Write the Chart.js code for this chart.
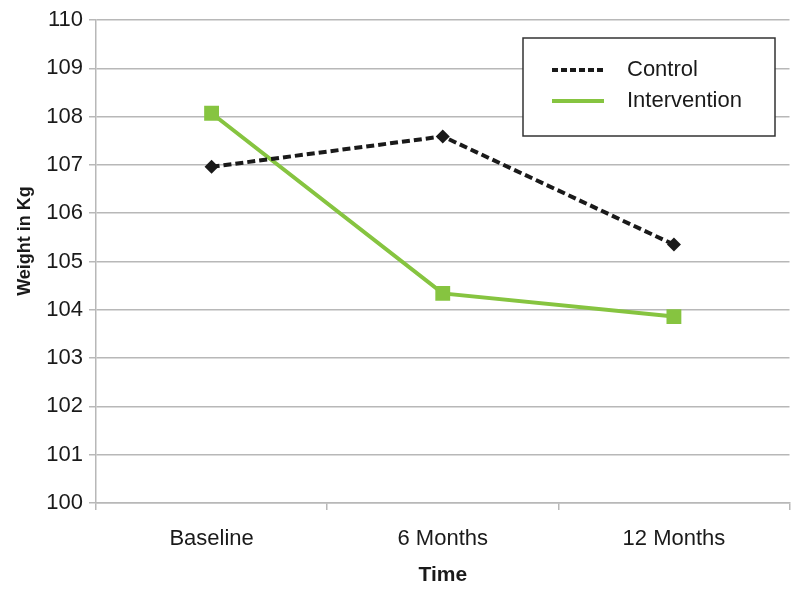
<!DOCTYPE html>
<html>
<head>
<meta charset="utf-8">
<script src="https://cdn.jsdelivr.net/npm/chart.js@4"></script>
<style>
  html, body { margin: 0; padding: 0; background: #fff; }
  #wrap { width: 800px; height: 592px; }
</style>
</head>
<body>
<div id="wrap"><canvas id="chart" width="800" height="592"></canvas></div>
<script>
// Données
const categories = ['Baseline', '6 Months', '12 Months'];
const controlValues = [106.96, 107.59, 105.35];
const interventionValues = [108.07, 104.34, 103.86];
const yTicks = [100, 101, 102, 103, 104, 105, 106, 107, 108, 109, 110];
const yTitle = 'Weight in Kg';
const xTitle = 'Time';

const colors = {
    control: '#1a1a1a',
    intervention: '#86c440',
    grid: '#b8b8b8',
    text: '#1a1a1a'
};

const FONT = "'Liberation Sans', Arial, sans-serif";

// Légende encadrée + titre de l'axe Y (décalé vers le haut comme l'original)
const boxLegend = {
    id: 'boxLegend',
    afterDraw(chart) {
        const ctx = chart.ctx;
        ctx.save();
        ctx.strokeStyle = '#333';
        ctx.lineWidth = 1.5;
        ctx.fillStyle = '#fff';
        ctx.fillRect(523, 38, 252, 98);
        ctx.strokeRect(523, 38, 252, 98);
        const rows = [70, 101];
        chart.data.datasets.forEach((ds, i) => {
            const y = rows[i];
            ctx.beginPath();
            ctx.setLineDash(ds.borderDash ? [6, 3] : []);
            ctx.strokeStyle = ds.borderColor;
            ctx.lineWidth = ds.borderWidth;
            ctx.moveTo(552, y);
            ctx.lineTo(604, y);
            ctx.stroke();
            ctx.setLineDash([]);
            ctx.fillStyle = colors.text;
            ctx.font = '22px ' + FONT;
            ctx.textBaseline = 'middle';
            ctx.fillText(ds.label, 627, y);
        });

        // titre Y
        ctx.translate(25, 241);
        ctx.rotate(-Math.PI / 2);
        ctx.font = 'bold 18px ' + FONT;
        ctx.textAlign = 'center';
        ctx.textBaseline = 'middle';
        ctx.fillStyle = colors.text;
        ctx.fillText(yTitle, 0, 0);
        ctx.restore();
    }
};

new Chart(document.getElementById('chart'), {
    type: 'line',
    data: {
        labels: categories,
        datasets: [{
            label: 'Control',
            data: controlValues,
            borderColor: colors.control,
            backgroundColor: colors.control,
            borderWidth: 4,
            borderDash: [8, 4],
            pointStyle: 'rectRot',
            pointRadius: 7,
            pointBorderWidth: 0,
            tension: 0
        }, {
            label: 'Intervention',
            data: interventionValues,
            borderColor: colors.intervention,
            backgroundColor: colors.intervention,
            borderWidth: 4,
            pointStyle: 'rect',
            pointRadius: 10.5,
            pointBorderWidth: 0,
            tension: 0
        }]
    },
    options: {
        responsive: false,
        animation: false,
        layout: { padding: { top: 20, right: 5, left: 0, bottom: 0 } },
        plugins: {
            legend: { display: false },
            tooltip: { enabled: false }
        },
        scales: {
            x: {
                offset: true,
                grid: {
                    offset: true,
                    drawOnChartArea: false,
                    drawTicks: true,
                    tickLength: 7,
                    color: colors.grid,
                    lineWidth: 1.5
                },
                border: { color: colors.grid, width: 1.5 },
                ticks: {
                    color: colors.text,
                    font: { family: FONT, size: 22 },
                    padding: 16
                },
                title: {
                    display: true,
                    text: xTitle,
                    color: colors.text,
                    font: { family: FONT, size: 21, weight: 'bold' },
                    padding: { top: 0, bottom: 4 }
                },
                afterFit(scale) { scale.height = 89; }
            },
            y: {
                min: 100,
                max: 110,
                afterBuildTicks(scale) {
                    scale.ticks = yTicks.map(v => ({ value: v }));
                },
                grid: {
                    color: colors.grid,
                    lineWidth: 1.5,
                    tickLength: 7
                },
                border: { color: colors.grid, width: 1.5 },
                ticks: {
                    color: colors.text,
                    font: { family: FONT, size: 22 },
                    padding: 6
                },
                afterFit(scale) { scale.width = 96; }
            }
        }
    },
    plugins: [boxLegend]
});
</script>
</body>
</html>
